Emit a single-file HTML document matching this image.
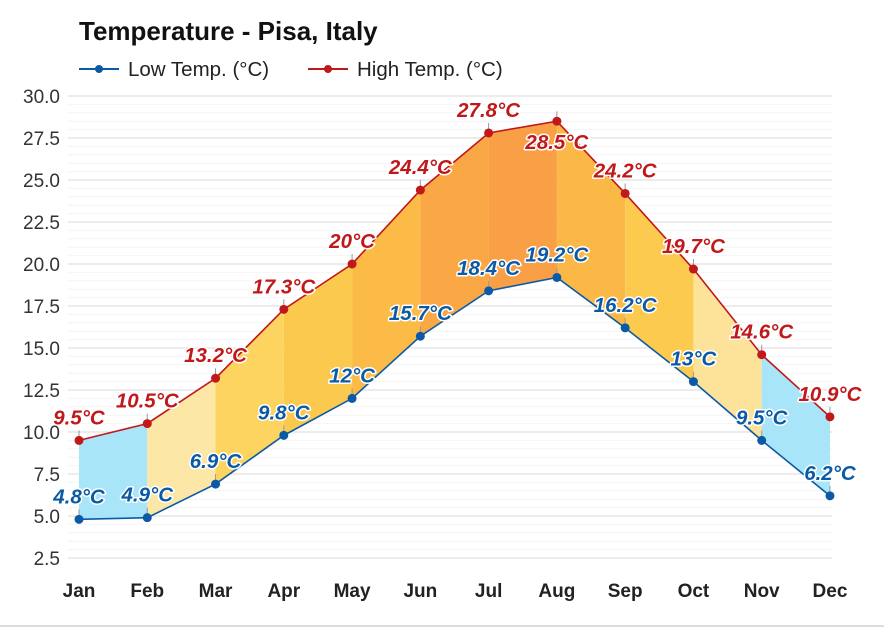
<!DOCTYPE html>
<html><head><meta charset="utf-8"><style>
body{margin:0;background:#fff;}
svg{display:block;font-family:"Liberation Sans",Arial,sans-serif;}
.lb{font-size:20.5px;font-weight:bold;font-style:italic;text-anchor:middle;paint-order:stroke;stroke:#fff;stroke-width:3px;stroke-linejoin:round;}
</style></head><body>
<svg width="884" height="635" viewBox="0 0 884 635" xmlns="http://www.w3.org/2000/svg">
<rect x="0" y="0" width="884" height="635" fill="#fff"/>
<line x1="0" y1="626" x2="884" y2="626" stroke="#ddd" stroke-width="2"/>
<text x="79" y="40" font-size="26" font-weight="bold" fill="#111">Temperature - Pisa, Italy</text>
<line x1="79" y1="69" x2="119" y2="69" stroke="#0b5aa5" stroke-width="2"/><circle cx="99" cy="69" r="4" fill="#0b5aa5"/>
<text x="128" y="76" font-size="20.5" fill="#222">Low Temp. (°C)</text>
<line x1="308" y1="69" x2="348" y2="69" stroke="#c0181b" stroke-width="2"/><circle cx="328" cy="69" r="4" fill="#c0181b"/>
<text x="357" y="76" font-size="20.5" fill="#222">High Temp. (°C)</text>
<g id="grid"></g>
<g id="fills"></g>
<g id="lines"></g>
<g id="labels"></g>
<script>
var ns="http://www.w3.org/2000/svg";
function el(p,t,a,txt){var e=document.createElementNS(ns,t);for(var k in a)e.setAttribute(k,a[k]);if(txt!==undefined)e.textContent=txt;document.getElementById(p).appendChild(e);return e;}
var X=function(i){return 79+i*68.27;},Y=function(v){return 516-(v-5)*16.8;};
for(var v=2.5;v<=30.01;v+=0.5){var maj=Math.abs(v/2.5-Math.round(v/2.5))<1e-6;
el("grid","line",{x1:68,x2:832,y1:Y(v),y2:Y(v),stroke:maj?"#d9d9d9":"#f4f4f4","stroke-width":1});
if(maj)el("grid","text",{x:60,y:Y(v)+7,"font-size":19,fill:"#333","text-anchor":"end"},v.toFixed(1));}
var m=["Jan","Feb","Mar","Apr","May","Jun","Jul","Aug","Sep","Oct","Nov","Dec"];
for(var i=0;i<12;i++)el("grid","text",{x:X(i),y:597,"font-size":19,"font-weight":"bold",fill:"#222","text-anchor":"middle"},m[i]);
var lo=[4.8,4.9,6.9,9.8,12,15.7,18.4,19.2,16.2,13,9.5,6.2],hi=[9.5,10.5,13.2,17.3,20,24.4,27.8,28.5,24.2,19.7,14.6,10.9];
var cols=["#a8e5f9","#fde7a6","#fdd45f","#fcc94f","#fbbb46","#faa745","#f9a047","#fbb846","#fcca4f","#fde39a","#a8e5f9"];
for(var i=0;i<11;i++)el("fills","polygon",{fill:cols[i],points:X(i)+","+Y(hi[i])+" "+X(i+1)+","+Y(hi[i+1])+" "+X(i+1)+","+Y(lo[i+1])+" "+X(i)+","+Y(lo[i])});
function pl(a){return a.map(function(v,i){return X(i)+","+Y(v)}).join(" ");}
el("lines","polyline",{points:pl(lo),fill:"none",stroke:"#0b5aa5","stroke-width":1.6});
el("lines","polyline",{points:pl(hi),fill:"none",stroke:"#c0181b","stroke-width":1.6});
for(var i=0;i<12;i++){
el("lines","line",{x1:X(i),x2:X(i),y1:Y(hi[i])-10,y2:Y(hi[i]),stroke:"#999","stroke-width":1});
el("lines","line",{x1:X(i),x2:X(i),y1:Y(lo[i])-10,y2:Y(lo[i]),stroke:"#999","stroke-width":1});
el("lines","circle",{cx:X(i),cy:Y(lo[i]),r:4.5,fill:"#0b5aa5"});
el("lines","circle",{cx:X(i),cy:Y(hi[i]),r:4.5,fill:"#c0181b"});
var hy=(i==7)?Y(hi[i])+28:Y(hi[i])-16;
el("labels","text",{"class":"lb",x:X(i),y:hy,fill:"#c0181b"},hi[i]+"°C");
el("labels","text",{"class":"lb",x:X(i),y:Y(lo[i])-16,fill:"#0b5aa5"},lo[i]+"°C");}
</script>
</svg>
</body></html>
